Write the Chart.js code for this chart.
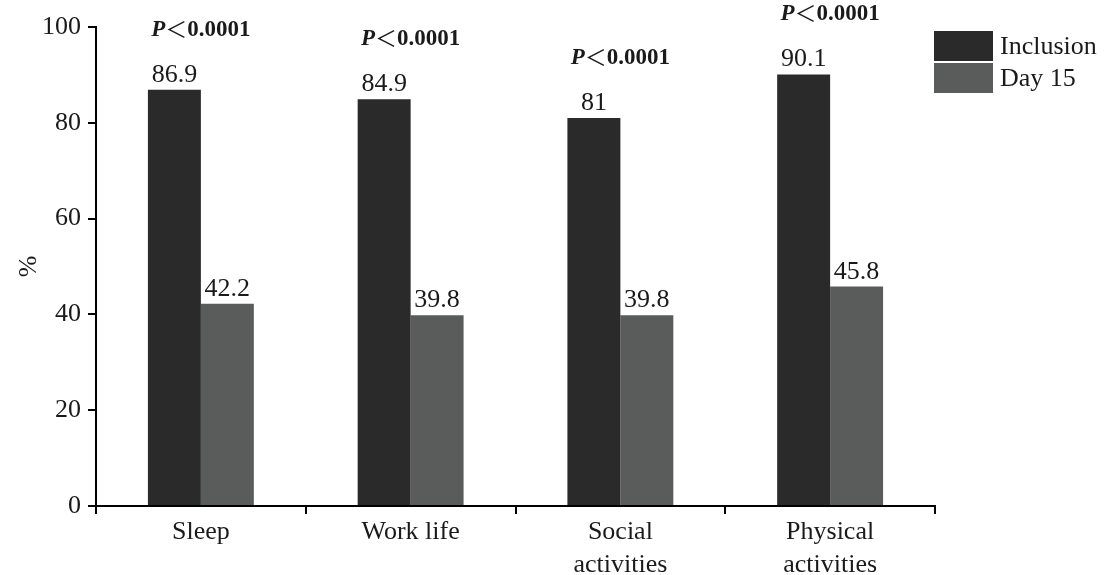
<!DOCTYPE html>
<html><head><meta charset="utf-8">
<script src="https://cdn.jsdelivr.net/npm/chart.js@4"></script>
<style>html,body{margin:0;padding:0;background:#fff}#wrap{width:1104px;height:575px;position:relative}</style>
</head><body><div id="wrap"><canvas id="c" width="1104" height="575"></canvas></div>
<script>
const categories = [['Sleep'], ['Work life'], ['Social', 'activities'], ['Physical', 'activities']];
const seriesNames = ['Inclusion', 'Day 15'];
const inclusionValues = [86.9, 84.9, 81, 90.1];
const day15Values = [42.2, 39.8, 39.8, 45.8];
const yTicks = [0, 20, 40, 60, 80, 100];
const pLabels = ['＜0.0001', '＜0.0001', '＜0.0001', '＜0.0001'];

const SERIF = '"Liberation Serif", "Times New Roman", serif';
const colors = ['#2a2a2a', '#5a5c5b'];

const annotate = {
  id: 'annotate',
  afterDatasetsDraw(chart) {
    const ctx = chart.ctx;
    ctx.save();
    ctx.font = '26px ' + SERIF;
    ctx.fillStyle = '#1a1a1a';
    ctx.textAlign = 'center';
    ctx.textBaseline = 'alphabetic';
    chart.data.datasets.forEach((ds, di) => {
      const meta = chart.getDatasetMeta(di);
      meta.data.forEach((el, i) => {
        ctx.fillText(String(ds.data[i]), el.x, el.y - 8);
      });
    });
    const meta0 = chart.getDatasetMeta(0);
    const xs = chart.scales.x;
    pLabels.forEach((txt, i) => {
      const cx = xs.getPixelForValue(i);
      const y = meta0.data[i].y - 54;
      const lt = txt.charAt(0), rest = txt.slice(1);
      const fP = 'italic bold 23px ' + SERIF;
      const fL = '22px "Noto Sans CJK SC", ' + SERIF;
      const fR = 'bold 23px ' + SERIF;
      ctx.font = fP; const wP = ctx.measureText('P').width;
      ctx.font = fL; const wL = ctx.measureText(lt).width;
      ctx.font = fR; const wR = ctx.measureText(rest).width;
      let x = cx - (wP + wL + wR) / 2;
      ctx.textAlign = 'left';
      ctx.font = fP; ctx.fillText('P', x, y); x += wP;
      ctx.font = fL; ctx.fillText(lt, x, y + 1); x += wL;
      ctx.font = fR; ctx.fillText(rest, x, y);
    });
    ctx.textAlign = 'left';
    ctx.textBaseline = 'middle';
    ctx.font = '26px ' + SERIF;
    seriesNames.forEach((name, i) => {
      const by = 31 + i * 32;
      ctx.fillStyle = colors[i];
      ctx.fillRect(934, by, 59, 30);
      ctx.fillStyle = '#1a1a1a';
      ctx.fillText(name, 1000, by + 16);
    });
    ctx.restore();
  }
};

new Chart(document.getElementById('c'), {
  type: 'bar',
  data: {
    labels: categories,
    datasets: [
      { label: seriesNames[0], data: inclusionValues, backgroundColor: colors[0], borderWidth: 0 },
      { label: seriesNames[1], data: day15Values, backgroundColor: colors[1], borderWidth: 0 }
    ]
  },
  options: {
    responsive: false,
    devicePixelRatio: 1,
    animation: false,
    layout: { padding: { left: 0, right: 169, top: 27, bottom: 0 } },
    plugins: { legend: { display: false }, tooltip: { enabled: false } },
    datasets: { bar: { categoryPercentage: 0.505, barPercentage: 1 } },
    scales: {
      x: {
        grid: { drawOnChartArea: false, drawTicks: true, tickLength: 8, color: '#000', lineWidth: 2, offset: true },
        border: { color: '#000', width: 2 },
        ticks: { font: { family: SERIF, size: 26, lineHeight: 1.25 }, color: '#1a1a1a', padding: 2, maxRotation: 0, autoSkip: false },
        afterFit(s) { s.height = 69; }
      },
      y: {
        min: 0, max: 100,
        afterBuildTicks(s) { s.ticks = yTicks.map(v => ({ value: v })); },
        grid: { drawOnChartArea: false, drawTicks: true, tickLength: 8, color: '#000', lineWidth: 2 },
        border: { color: '#000', width: 2 },
        ticks: { font: { family: SERIF, size: 26 }, color: '#1a1a1a', padding: 7 },
        title: { display: true, text: '%', font: { family: SERIF, size: 26 }, color: '#1a1a1a', padding: { top: 14, bottom: 0 } },
        afterFit(s) { s.width = 96; }
      }
    }
  },
  plugins: [annotate]
});
</script>
</body></html>
